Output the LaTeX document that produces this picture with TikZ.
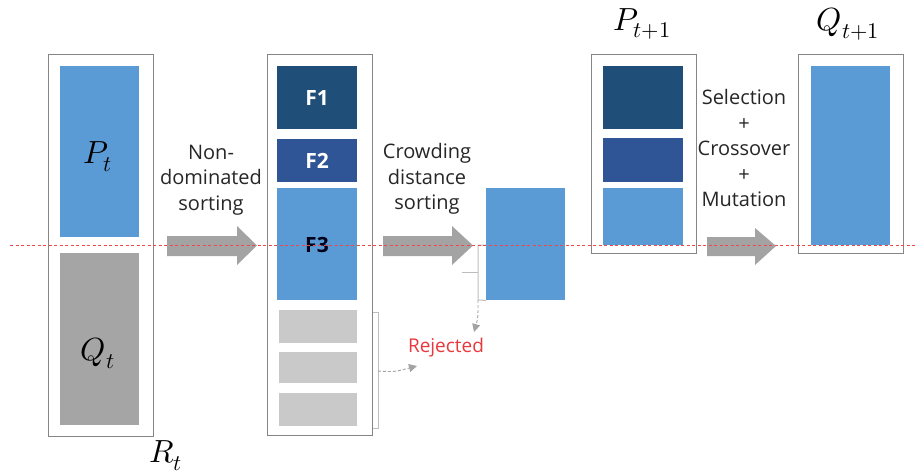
\documentclass[tikz,border=0pt]{standalone}
\usepackage{fontspec}
\usepackage{unicode-math}
\setmainfont{Open Sans}
\usetikzlibrary{arrows.meta}
\definecolor{lblue}{HTML}{5B9BD5}
\definecolor{dnavy}{HTML}{1F4E79}
\definecolor{mblue}{HTML}{2F5597}
\definecolor{qgray}{HTML}{A5A5A5}
\definecolor{rgray}{HTML}{C9C9C9}
\definecolor{framegray}{HTML}{858585}
\definecolor{arrowgray}{HTML}{A3A3A3}
\definecolor{brgray}{HTML}{BDBDBD}
\definecolor{rejred}{HTML}{E8383D}
\definecolor{guidered}{HTML}{F04848}
\definecolor{txt}{HTML}{262626}
\begin{document}
\begin{tikzpicture}[x=1pt,y=-1pt,
  frame/.style={draw=framegray, line width=1.2pt, fill=white, anchor=north west, inner sep=0pt},
  block/.style={anchor=north west, inner sep=0pt, draw=none},
  steptext/.style={text=txt, align=center, font=\fontsize{20}{25.5}\selectfont},
  flabel/.style={font=\fontsize{21}{24}\selectfont\bfseries},
  mathlabel/.style={text=black, font=\fontsize{32}{34}\selectfont},
  blockarrow/.style={fill=arrowgray, draw=none},
  bracket/.style={draw=brgray, line width=1pt},
  reject/.style={draw=arrowgray, line width=0.9pt, densely dashed, -{Triangle[length=8pt,width=8pt]}},
  midline/.style={draw=guidered, line width=1pt, dash pattern=on 3pt off 2.5pt}]
\useasboundingbox (0,0) rectangle (919,474);

% R_t = P_t + Q_t
\node[frame, minimum width=105pt, minimum height=382pt] (rt) at (48,54) {};
\node[block, fill=lblue, minimum width=79pt, minimum height=171pt] (pt) at (60,66) {};
\node[block, fill=qgray, minimum width=79pt, minimum height=172pt] (qt) at (60,253) {};
\node[mathlabel] at ([xshift=-2pt]pt.center |- 0,157) {$P_t$};
\node[mathlabel] at ([xshift=-2pt]qt.center |- 0,353) {$Q_t$};
\node[mathlabel] (rtl) at (166,456) {$R_t$};

% fronts after non-dominated sorting
\node[frame, minimum width=105pt, minimum height=381pt] (fr) at (267,54) {};
\node[block, fill=dnavy, minimum width=80pt, minimum height=63pt] (f1) at (277,66) {};
\node[block, fill=mblue, minimum width=80pt, minimum height=43pt] (f2) at (277,139) {};
\node[block, fill=lblue, minimum width=80pt, minimum height=112pt] (f3) at (277,188) {};
\node[block, fill=rgray, minimum width=78pt, minimum height=33pt] (g1) at (279,310) {};
\node[block, fill=rgray, minimum width=78pt, minimum height=31pt] (g2) at (279,352) {};
\node[block, fill=rgray, minimum width=78pt, minimum height=33pt] (g3) at (279,393) {};
\node[flabel, text=white] at (f1.center) {F1};
\node[flabel, text=white] at (f2.center) {F2};
\node[flabel, text={black!90!blue}] at (317,245) {F3};

% part of F3 kept after crowding distance sorting
\node[block, fill=lblue, minimum width=79pt, minimum height=112pt] (sel) at (486,188) {};

% P_{t+1}
\node[frame, minimum width=105pt, minimum height=199pt] (pn) at (591,54) {};
\node[block, fill=dnavy, minimum width=80pt, minimum height=63pt] (p1) at (603,66) {};
\node[block, fill=mblue, minimum width=80pt, minimum height=44pt] (p2) at (603,138) {};
\node[block, fill=lblue, minimum width=80pt, minimum height=57pt] (p3) at (603,188) {};
\node[mathlabel] (pnl) at (642,24) {$P_{t+1}$};

% Q_{t+1}
\node[frame, minimum width=105pt, minimum height=199pt] (qn) at (798,54) {};
\node[block, fill=lblue, minimum width=79pt, minimum height=179pt] (q1) at (811,66) {};
\node[mathlabel] (qnl) at (848,24) {$Q_{t+1}$};

% block arrows
\fill[blockarrow] (167,236) -- (237,236) -- (237,226) -- (257,245.5) -- (237,265) -- (237,256) -- (167,256) -- cycle;
\fill[blockarrow] (383,236) -- (452,236) -- (452,226) -- (473,245.5) -- (452,265) -- (452,256) -- (383,256) -- cycle;
\fill[blockarrow] (707,237) -- (755,237) -- (755,228) -- (776,246) -- (755,265) -- (755,256) -- (707,256) -- cycle;

% step texts
\node[steptext] (t1) at (211,180) {Non-\\dominated\\sorting};
\node[steptext] (t2) at (427,179) {Crowding\\distance\\sorting};
\node[steptext] (t3) at (744,148) {Selection\\+\\Crossover\\+\\Mutation};

% rejected solutions
\node[text=rejred, font=\fontsize{19}{22}\selectfont] (rej) at (446,348) {Rejected};
\coordinate (b1top) at (378,312);
\coordinate (b1bot) at (378,428);
\coordinate (b1mid) at (378,371);
\coordinate (b1end) at (417,366);
\draw[bracket] (fr.east |- b1top) -- (b1top) -- (b1bot) -- (fr.east |- b1bot);
\draw[reject] (b1mid) .. controls (394,372) .. (b1end);

\coordinate (b2top) at (478,245);
\coordinate (b2bot) at (478,300);
\coordinate (b2end) at (474,332);
\draw[bracket] (sel.west |- b2top) -- (b2top) -- (b2bot) -- (sel.south west);
\draw[bracket] (462,272) -- (478,272);
\draw[reject] (b2bot) .. controls (478,318) .. (b2end);

% reference line across the figure
\draw[midline] (10,245) -- (915,245);
\end{tikzpicture}
\end{document}
